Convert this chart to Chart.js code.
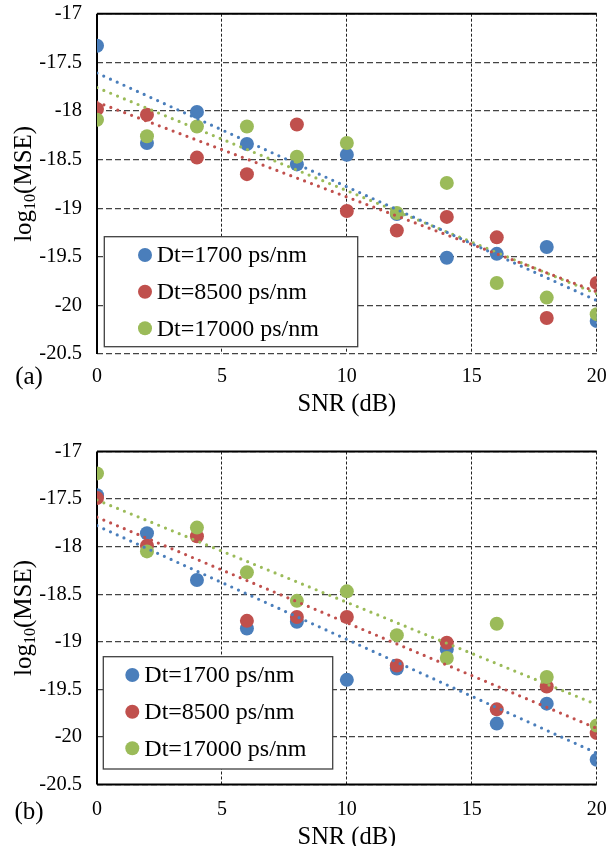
<!DOCTYPE html>
<html>
<head>
<meta charset="utf-8">
<title>log10(MSE) vs SNR</title>
<script src="https://cdn.jsdelivr.net/npm/chart.js@4.4.1/dist/chart.umd.min.js"></script>
<style>
  html, body { margin: 0; padding: 0; background: #fff; overflow: hidden; }
  canvas { position: absolute; left: 0; }
  #chartA { top: 0; }
  #chartB { top: 423px; }
</style>
</head>
<body>
<canvas id="chartA" width="608" height="423"></canvas>
<canvas id="chartB" width="608" height="430"></canvas>
<script>
// SNR values (dB) shared by both panels
const snr = [0, 2, 4, 6, 8, 10, 12, 14, 16, 18, 20];
const seriesNames = ['Dt=1700 ps/nm', 'Dt=8500 ps/nm', 'Dt=17000 ps/nm'];
const colors = ['#4a7ebb', '#c0504d', '#9bbb59'];

// panel (a)
const mseA1700  = [-17.33, -18.33, -18.01, -18.34, -18.55, -18.45, -19.06, -19.51, -19.47, -19.40, -20.16];
const mseA8500  = [-17.98, -18.04, -18.48, -18.65, -18.14, -19.03, -19.23, -19.09, -19.30, -20.13, -19.77];
const mseA17000 = [-18.09, -18.26, -18.16, -18.16, -18.47, -18.33, -19.05, -18.74, -19.77, -19.92, -20.09];

// panel (b)
const mseB1700  = [-17.46, -17.86, -18.35, -18.86, -18.79, -19.40, -19.28, -19.08, -19.86, -19.65, -20.24];
const mseB8500  = [-17.49, -17.99, -17.89, -18.78, -18.74, -18.74, -19.25, -19.01, -19.71, -19.47, -19.96];
const mseB17000 = [-17.23, -18.05, -17.80, -18.27, -18.57, -18.47, -18.93, -19.17, -18.81, -19.37, -19.88];

// dotted linear trend lines, read at both ends
const trendX = [0, 20];
const trendA1700  = [-17.61, -19.95];
const trendA8500  = [-17.91, -19.86];
const trendA17000 = [-17.76, -19.88];
const trendB1700  = [-17.78, -20.17];
const trendB8500  = [-17.69, -19.91];
const trendB17000 = [-17.51, -19.66];

// ticks
const xTicks = [0, 5, 10, 15, 20];
const yTicks = [-17, -17.5, -18, -18.5, -19, -19.5, -20, -20.5];

const FONT = "'Liberation Serif', 'Times New Roman', serif";

// Draws frame, y title with subscript, panel tag and the inner legend
const panelDecor = {
  id: 'panelDecor',
  beforeDatasetsDraw(chart, args, opts) {
    const { ctx, chartArea: a } = chart;
    ctx.save();
    ctx.strokeStyle = '#000';
    ctx.lineWidth = 2;
    ctx.beginPath();
    ctx.moveTo(a.left, a.top);
    ctx.lineTo(a.right, a.top);
    ctx.moveTo(a.left, a.top);
    ctx.lineTo(a.left, a.bottom);
    if (opts.solidBottom) {
      ctx.moveTo(a.left, a.bottom);
      ctx.lineTo(a.right, a.bottom);
    }
    ctx.stroke();
    ctx.restore();
  },
  afterDatasetsDraw(chart, args, opts) {
    const { ctx } = chart;
    const lg = opts.legend;
    ctx.save();
    ctx.fillStyle = '#fff';
    ctx.fillRect(lg.left, lg.top, lg.width, lg.height);
    ctx.strokeStyle = '#404040';
    ctx.lineWidth = 1.3;
    ctx.strokeRect(lg.left, lg.top, lg.width, lg.height);
    ctx.font = '24px ' + FONT;
    ctx.textBaseline = 'middle';
    ctx.textAlign = 'left';
    seriesNames.forEach((name, i) => {
      const y = lg.rows[i];
      ctx.fillStyle = colors[i];
      ctx.beginPath();
      ctx.arc(lg.markerX, y, 7, 0, Math.PI * 2);
      ctx.fill();
      ctx.fillStyle = '#000';
      ctx.fillText(name, lg.textX, y + 1);
    });
    ctx.restore();
  },
  afterDraw(chart, args, opts) {
    const { ctx, chartArea: a } = chart;
    ctx.save();
    // y axis title: log10(MSE) with subscript
    ctx.fillStyle = '#000';
    ctx.textBaseline = 'alphabetic';
    ctx.textAlign = 'left';
    const big = '25px ' + FONT, small = '16px ' + FONT;
    ctx.font = big;
    const w1 = ctx.measureText('log').width;
    const w3 = ctx.measureText('(MSE)').width;
    ctx.font = small;
    const w2 = ctx.measureText('10').width;
    const total = w1 + w2 + w3;
    ctx.translate(31, (a.top + a.bottom) / 2);
    ctx.rotate(-Math.PI / 2);
    let x = -total / 2;
    ctx.font = big;
    ctx.fillText('log', x, 0);
    x += w1;
    ctx.font = small;
    ctx.fillText('10', x, 4);
    x += w2;
    ctx.font = big;
    ctx.fillText('(MSE)', x, 0);
    ctx.restore();

    ctx.save();
    ctx.font = '25px ' + FONT;
    ctx.fillStyle = '#000';
    ctx.textAlign = 'center';
    ctx.textBaseline = 'middle';
    ctx.fillText(opts.tag, 29, opts.tagY);
    ctx.restore();
  }
};

function makeChart(canvasId, series, trends, cfg) {
  const datasets = [];
  series.forEach((vals, i) => {
    datasets.push({
      label: seriesNames[i],
      data: snr.map((x, k) => ({ x: x, y: vals[k] })),
      backgroundColor: colors[i],
      borderWidth: 0,
      pointRadius: 7,
      pointBorderWidth: 0,
      showLine: false,
      order: 3 - i
    });
  });
  trends.forEach((t, i) => {
    datasets.push({
      label: seriesNames[i] + ' trend',
      data: trendX.map((x, k) => ({ x: x, y: t[k] })),
      borderColor: colors[i],
      borderWidth: 3.2,
      borderDash: [0, 7.4],
      borderCapStyle: 'round',
      showLine: true,
      pointRadius: 0,
      fill: false,
      order: 0
    });
  });

  return new Chart(document.getElementById(canvasId), {
    type: 'scatter',
    data: { datasets },
    options: {
      responsive: false,
      animation: false,
      events: [],
      layout: { padding: { left: 0, right: 11.3, top: cfg.top, bottom: 0 } },
      plugins: {
        legend: { display: false },
        tooltip: { enabled: false },
        panelDecor: cfg.decor
      },
      scales: {
        x: {
          type: 'linear',
          min: 0,
          max: 20,
          afterBuildTicks: s => { s.ticks = xTicks.map(v => ({ value: v })); },
          afterFit: s => {
            s.height = cfg.xHeight;
            s.paddingLeft = 0;
            s.paddingRight = 0;
          },
          ticks: {
            color: '#000',
            font: { family: FONT, size: 20 },
            padding: cfg.xTickPad,
            maxRotation: 0,
            autoSkip: false
          },
          grid: { color: '#222', lineWidth: 1, drawTicks: false },
          border: { display: false, dash: [3, 2] },
          title: {
            display: true,
            text: 'SNR (dB)',
            color: '#000',
            font: { family: FONT, size: 24.5 },
            padding: { top: 0, bottom: cfg.titlePad }
          }
        },
        y: {
          type: 'linear',
          min: -20.5,
          max: -17,
          afterBuildTicks: s => { s.ticks = yTicks.map(v => ({ value: v })); },
          afterFit: s => {
            s.width = 97;
            s.paddingTop = 0;
            s.paddingBottom = 0;
          },
          ticks: {
            color: '#000',
            font: { family: FONT, size: 20.5 },
            padding: 15,
            callback: v => String(v)
          },
          grid: { color: '#444', lineWidth: 1.3, drawTicks: false },
          border: { display: false, dash: [6, 3] }
        }
      }
    },
    plugins: [panelDecor]
  });
}

makeChart('chartA', [mseA1700, mseA8500, mseA17000], [trendA1700, trendA8500, trendA17000], {
  top: 13.7,
  xHeight: 69,
  xTickPad: 11,
  titlePad: 3.3,
  decor: {
    tag: '(a)',
    tagY: 377,
    solidBottom: false,
    legend: { left: 104.3, top: 236.7, width: 253.4, height: 110, markerX: 145, textX: 156.7, rows: [255, 291.7, 328.3] }
  }
});

makeChart('chartB', [mseB1700, mseB8500, mseB17000], [trendB1700, trendB8500, trendB17000], {
  top: 28.5,
  xHeight: 68.5,
  xTickPad: 13,
  titlePad: 0.3,
  decor: {
    tag: '(b)',
    tagY: 389,
    solidBottom: true,
    legend: { left: 103.3, top: 233.7, width: 229.4, height: 112.3, markerX: 132.3, textX: 144.3, rows: [252, 288.7, 325.3] }
  }
});
</script>
</body>
</html>
